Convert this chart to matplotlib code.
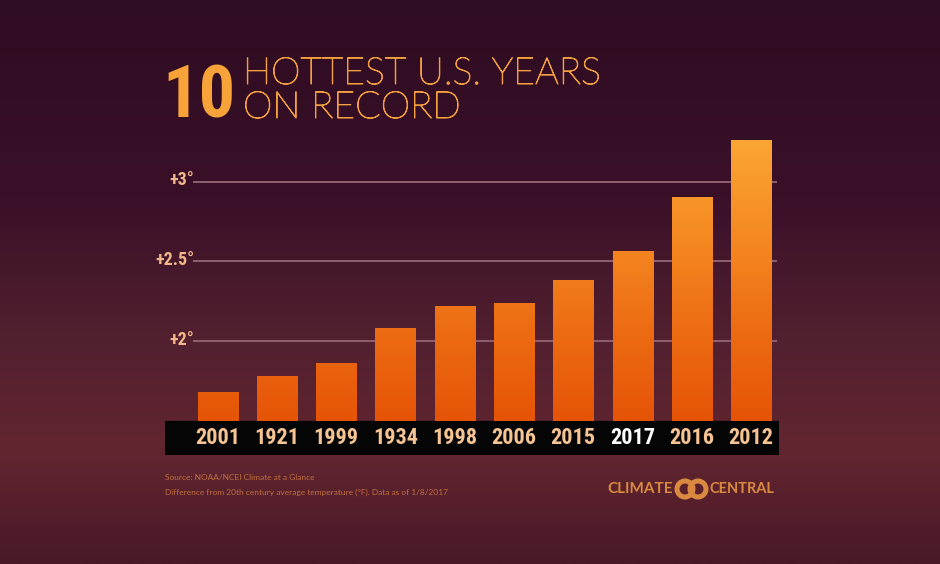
import numpy as np
import matplotlib.pyplot as plt
import matplotlib.patheffects as pe
from matplotlib.colors import LinearSegmentedColormap, Normalize
from matplotlib.patches import Circle

# --- data (degrees F above 20th century average) ---
years = ['2001', '1921', '1999', '1934', '1998', '2006', '2015', '2017', '2016', '2012']
anomaly = [1.68, 1.78, 1.86, 2.08, 2.22, 2.235, 2.38, 2.56, 2.90, 3.26]
tick_values = [2.0, 2.5, 3.0]
tick_labels = ['+2°', '+2.5°', '+3°']
highlight_year = '2017'

narrow = ['Roboto Condensed', 'Liberation Sans', 'DejaVu Sans']
light = ['Lato', 'DejaVu Sans']

fig = plt.figure(figsize=(9.4, 5.64), dpi=100)

# background gradient
bg = fig.add_axes([0, 0, 1, 1], zorder=-1)
bg_cmap = LinearSegmentedColormap.from_list('bg', [
    (0.0, '#2e0c21'), (0.35, '#3a1028'), (0.6, '#52202f'),
    (0.8, '#622630'), (1.0, '#4a1827')])
bg.imshow(np.linspace(0, 1, 256).reshape(-1, 1), aspect='auto', cmap=bg_cmap,
          extent=[0, 1, 1, 0])
bg.axis('off')

# main axes, placed in pixel terms
base = 1.5
px_per_deg = 159.5
y_lo = base - 34 / px_per_deg
y_hi = base + (421 - 134) / px_per_deg
ax = fig.add_axes([165 / 940, (564 - 455) / 564, 614 / 940, (455 - 134) / 564])
ax.patch.set_alpha(0)
for s in ax.spines.values():
    s.set_visible(False)
ax.set_xticks([])
ax.set_yticks([])

x = np.arange(len(years))
bar_w = 0.675

# gridlines
ax.hlines(tick_values, -0.41, 9.44, color='#8f6170', lw=1.4, zorder=1)
for v, lbl in zip(tick_values, tick_labels):
    ax.text(-0.39, v + 0.01, lbl, ha='right', va='center', color='#f3b88a',
            fontsize=13, fontweight='bold', family=narrow)

# black band under the bars
ax.axhspan(y_lo, base, color='#050505', zorder=2)

# bars with a vertical gradient
bar_cmap = LinearSegmentedColormap.from_list('bars', [
    (0.0, '#e65407'), (0.3, '#ec6a12'), (0.6, '#f4841f'), (1.0, '#fba634')])
norm = Normalize(base, max(anomaly))
bars = ax.bar(x, np.array(anomaly) - base, bottom=base, width=bar_w,
              color='none', zorder=3)
for xi, v in zip(x, anomaly):
    ax.imshow(np.linspace(base, v, 200).reshape(-1, 1), origin='lower',
              extent=[xi - bar_w / 2, xi + bar_w / 2, base, v],
              cmap=bar_cmap, norm=norm, aspect='auto', zorder=3)

# year labels
for xi, yr in zip(x, years):
    col = 'white' if yr == highlight_year else '#f6c393'
    ax.text(xi, base - 17 / px_per_deg, yr, ha='center', va='center',
            color=col, fontsize=16, fontweight='bold', family=narrow)

ax.set_xlim(-0.886, 9.47)
ax.set_ylim(y_lo, y_hi)

# title
fig.text(162 / 940, 1 - 118 / 564, '10', color='#f7a33a', fontsize=52,
         fontweight='bold', family=narrow, va='baseline', ha='left')
thin_stroke = [pe.withStroke(linewidth=0.7, foreground='#f4a040')]
fig.text(243 / 940, 1 - 84 / 564, 'HOTTEST U.S. YEARS', color='#f4a040',
         fontsize=27, fontweight='light', family=light, va='baseline',
         path_effects=thin_stroke)
fig.text(243 / 940, 1 - 118 / 564, 'ON RECORD', color='#f4a040',
         fontsize=27, fontweight='light', family=light, va='baseline',
         path_effects=thin_stroke)

# source notes
fig.text(165 / 940, 1 - 478 / 564, 'Source: NOAA/NCEI Climate at a Glance',
         color='#c06e3e', fontsize=6.0, family=light, va='center')
fig.text(165 / 940, 1 - 492 / 564,
         'Difference from 20th century average temperature (°F). Data as of 1/8/2017',
         color='#c06e3e', fontsize=6.0, family=light, va='center')

# logo
logo_col = '#d98a40'
fig.text(673 / 940, 1 - 489 / 564, 'CLIMATE', color=logo_col, fontsize=11,
         fontweight='bold', family=light, ha='right', va='center')
fig.text(709 / 940, 1 - 489 / 564, 'CENTRAL', color=logo_col, fontsize=10.5,
         fontweight='bold', family=light, ha='left', va='center')
for cx in (685, 698):
    fig.patches.append(Circle((cx / 100, (564 - 489) / 100), 0.08,
                              transform=fig.dpi_scale_trans, fill=False,
                              ec=logo_col, lw=3.6))

fig.savefig('out.png', dpi=100)
